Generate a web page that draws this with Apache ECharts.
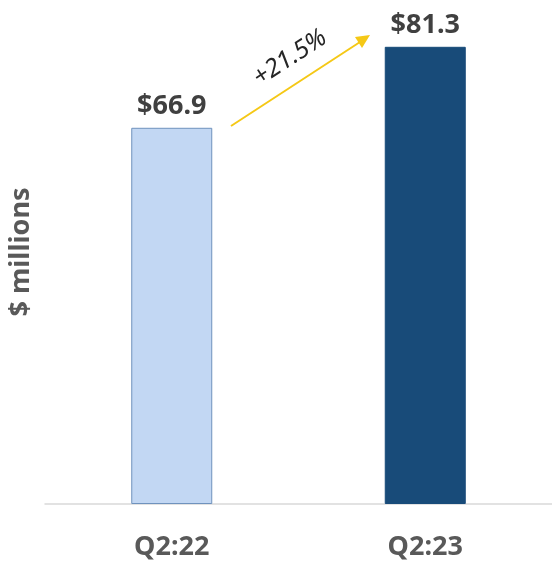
<!DOCTYPE html>
<html>
<head>
    <meta charset="utf-8">
    <title>Q2 revenue</title>
    <script src="https://cdn.jsdelivr.net/npm/echarts@6/dist/echarts.min.js"></script>
    <style>
        html, body { margin: 0; padding: 0; background: #fff; }
        #chart1 { width: 552px; height: 572px; }
    </style>
</head>
<body>
<div id="chart1"></div>
<script type="text/javascript">
    // 数据
    var quarters = ['Q2:22', 'Q2:23'];
    var revenue = [66.9, 81.3];
    var barColors = ['#c2d7f3', '#184b79'];
    var growthText = '+21.5%';

    var myChart1 = echarts.init(document.getElementById('chart1'));
    var font = '"Noto Sans", "Open Sans", sans-serif';

    myChart1.setOption({
        animation: false,
        grid: { left: 43, right: -3, top: 26, bottom: 68 },
        xAxis: {
            type: 'category',
            data: quarters,
            axisLine: { lineStyle: { color: '#d9d9d9', width: 1.5 } },
            axisTick: { show: false },
            axisLabel: {
                margin: 30,
                color: '#595959',
                fontFamily: font,
                fontWeight: 'bold',
                fontSize: 27
            }
        },
        yAxis: {
            type: 'value',
            min: 0,
            max: 85,
            axisLine: { show: false },
            axisTick: { show: false },
            axisLabel: { show: false },
            splitLine: { show: false },
            name: '$ millions',
            nameLocation: 'middle',
            nameRotate: 90,
            nameGap: 10,
            nameTextStyle: {
                color: '#595959',
                fontFamily: font,
                fontWeight: 'bold',
                fontSize: 27,
                padding: [0, 0, 0, 26]
            }
        },
        series: [{
            type: 'bar',
            barWidth: 81,
            data: revenue.map(function (v, i) {
                return {
                    value: v,
                    itemStyle: {
                        color: barColors[i],
                        borderColor: i === 0 ? '#6f92bd' : '#184b79',
                        borderWidth: 1
                    }
                };
            }),
            label: {
                show: true,
                position: 'top',
                distance: 8,
                formatter: function (p) { return '$' + p.value.toFixed(1); },
                color: '#404040',
                fontFamily: font,
                fontWeight: 'bold',
                fontSize: 27
            }
        }],
        graphic: [
            {
                type: 'line',
                shape: { x1: 231, y1: 126, x2: 360, y2: 42 },
                style: { stroke: '#f5c816', lineWidth: 2 }
            },
            {
                type: 'polygon',
                shape: { points: [[370, 35], [355, 37], [362, 48]] },
                style: { fill: '#f5c816' }
            },
            {
                type: 'text',
                x: 290,
                y: 58,
                rotation: 33 * Math.PI / 180,
                style: {
                    text: growthText,
                    fill: '#262626',
                    font: 'italic 25px "Noto Sans", sans-serif',
                    align: 'center',
                    verticalAlign: 'middle'
                }
            }
        ]
    });
</script>
</body>
</html>
